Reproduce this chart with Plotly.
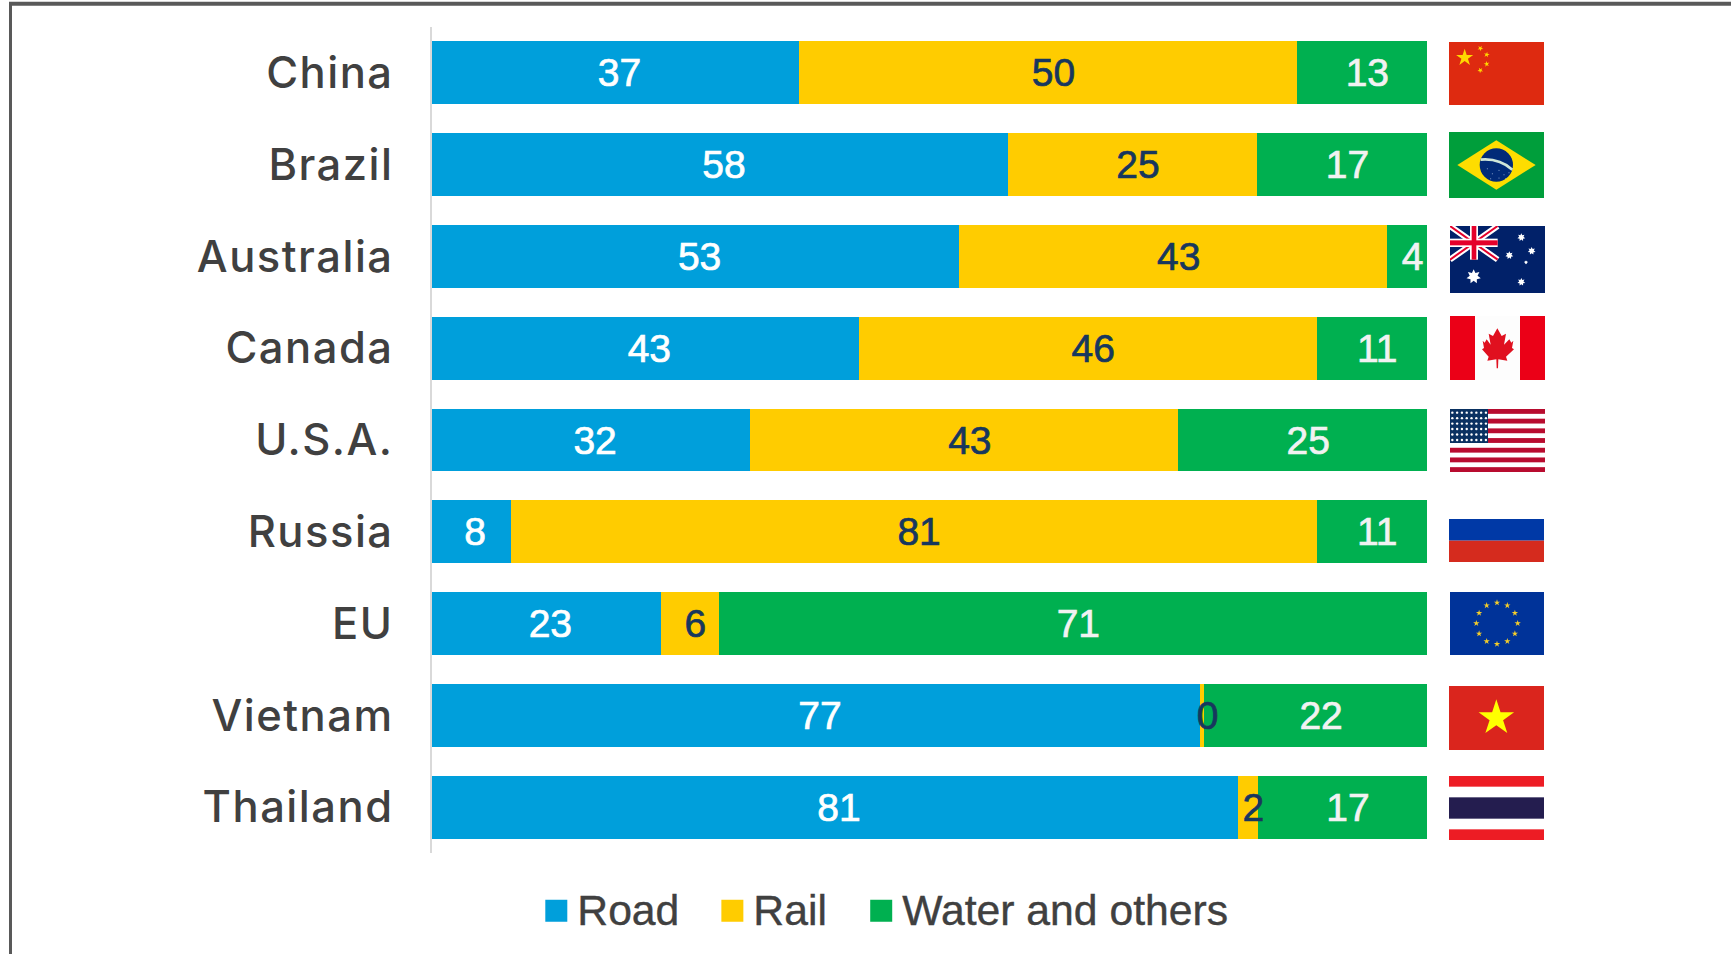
import base64
import math
import plotly.graph_objects as go

countries = ["China", "Brazil", "Australia", "Canada", "U.S.A.", "Russia", "EU", "Vietnam", "Thailand"]
road = [36.9, 57.9, 53, 42.9, 32, 7.9, 23, 77.2, 81]
rail = [50, 25, 43, 46, 43, 81, 5.8, 0.4, 2]
water = [13.1, 17.1, 4, 11.1, 25, 11.1, 71.2, 22.4, 17]

BLUE, YELLOW, GREEN = "#009FDB", "#FFCC00", "#00B050"
W, H = 1731, 954
L, R, T, B = 432, 1427, 27, 853
PW, PH = R - L, B - T


def star(cx, cy, r, points=5, inner=0.382, fill="#FFD800", rot=-90):
    pts = []
    for i in range(points * 2):
        rad = r if i % 2 == 0 else r * inner
        a = math.radians(rot + i * 180 / points)
        pts.append(f"{cx + rad * math.cos(a):.1f},{cy + rad * math.sin(a):.1f}")
    return f'<polygon points="{" ".join(pts)}" fill="{fill}"/>'


def svg(w, h, body):
    s = f'<svg xmlns="http://www.w3.org/2000/svg" width="{w}" height="{h}" viewBox="0 0 {w} {h}" preserveAspectRatio="none">{body}</svg>'
    return "data:image/svg+xml;base64," + base64.b64encode(s.encode()).decode()


def rect(x, y, w, h, c):
    return f'<rect x="{x}" y="{y}" width="{w}" height="{h}" fill="{c}"/>'


china = rect(0, 0, 285, 189, "#DE2A10") + star(47, 47, 27) + "".join(
    star(x, y, 9, rot=r) for x, y, r in [(94, 19, -60), (113, 38, -80), (113, 66, -100), (94, 85, -120)])

brazil = (rect(0, 0, 285, 198, "#009E3B")
          + '<polygon points="25,99 142,25 260,99 142,173" fill="#FEDD00"/>'
          + '<circle cx="142" cy="99" r="50" fill="#012A78"/>'
          + '<path d="M95,83 Q150,78 190,113" stroke="#CFE6D8" stroke-width="8" fill="none"/>'
          + "".join(f'<circle cx="{x}" cy="{y}" r="1.5" fill="#AFC4E0"/>' for x, y in
                    [(115, 110), (130, 125), (150, 115), (165, 128), (180, 122), (125, 140), (150, 138), (170, 140)]))

australia = (rect(0, 0, 285, 201, "#012169")
             + '<path d="M0,0 L143,101 M143,0 L0,101" stroke="#FFFFFF" stroke-width="18"/>'
             + '<path d="M0,0 L143,101 M143,0 L0,101" stroke="#E4002B" stroke-width="6"/>'
             + rect(60, 0, 24, 101, "#FFFFFF") + rect(0, 38, 143, 25, "#FFFFFF")
             + rect(65, 0, 14, 101, "#E4002B") + rect(0, 43, 143, 15, "#E4002B")
             + star(71, 152, 22, 7, 0.55, "#FFFFFF")
             + "".join(star(x, y, r, 7, 0.55, "#FFFFFF") for x, y, r in
                       [(214, 34, 12), (245, 75, 12), (178, 88, 12), (228, 109, 6), (214, 168, 12)]))

leaf = ("M142,37 L155,60 L168,53 L162,86 L178,70 L184,80 L190,74 L186,96 L192,100 L168,122 L172,134 "
        "L145,130 L144,157 L140,157 L139,130 L112,134 L116,122 L96,100 L102,96 L98,74 L104,80 L110,70 "
        "L122,86 L116,53 L129,60 Z")
canada = (rect(0, 0, 285, 192, "#EB0017") + rect(75, 0, 135, 192, "#FDFDFD")
          + f'<path d="{leaf}" fill="#E0101F"/>')

usa = rect(0, 0, 285, 189, "#FFFFFF") + "".join(
    rect(0, i * 14.54, 285, 14.54, "#B80C2F") for i in range(0, 13, 2)) + rect(0, 0, 114, 102, "#0A3161") + "".join(
    f'<circle cx="{7 + c * 14.4:.1f}" cy="{11 + r * 16.4:.1f}" r="3.6" fill="#FFFFFF"/>' for r in range(6) for c in range(8))

russia = rect(0, 0, 285, 65, "#0039A6") + rect(0, 65, 285, 64, "#D52B1E")

eu = rect(0, 0, 282, 189, "#003399") + "".join(
    star(141 + 62 * math.sin(math.radians(30 * i)), 94 - 62 * math.cos(math.radians(30 * i)), 10, fill="#F5CE2A")
    for i in range(12))

vietnam = rect(0, 0, 285, 192, "#DA251D") + star(142, 96, 56, fill="#FFFF00")

thailand = (rect(0, 0, 285, 192, "#FFFFFF") + rect(0, 0, 285, 32, "#ED1C24") + rect(0, 160, 285, 32, "#ED1C24")
            + rect(0, 64, 285, 64, "#241D4F"))

flags = [
    (svg(285, 189, china), 1449, 42, 95, 63),
    (svg(285, 198, brazil), 1449, 132, 95, 66),
    (svg(285, 201, australia), 1450, 226, 95, 67),
    (svg(285, 192, canada), 1450, 316, 95, 64),
    (svg(285, 189, usa), 1450, 409, 95, 63),
    (svg(285, 129, russia), 1449, 519, 95, 43),
    (svg(282, 189, eu), 1450, 592, 94, 63),
    (svg(285, 192, vietnam), 1449, 686, 95, 64),
    (svg(285, 192, thailand), 1449, 776, 95, 64),
]


def px(x):
    return (x - L) / PW


def py(y):
    return 1 - (y - T) / PH


fig = go.Figure()
for name, vals, col, tc, pad in [("Road", road, BLUE, "#FFFFFF", "\u2009"),
                                 ("Rail", rail, YELLOW, "#17375E", "\u2009\u200a"),
                                 ("Water and others", water, GREEN, "#F2F2F2", "\u2009\u200a")]:
    fig.add_trace(go.Bar(
        name=name, y=countries, x=vals, orientation="h", marker=dict(color=col, line=dict(width=0)),
        texttemplate=pad + "%{x:.0f}", textposition="inside", insidetextanchor="middle", textangle=0,
        constraintext="none", cliponaxis=False,
        textfont=dict(family="Liberation Sans", size=39, color=tc),
    ))

fig.update_layout(
    width=W, height=H, barmode="stack", bargap=0.314,
    margin=dict(l=L, r=W - R, t=T, b=H - B, autoexpand=False),
    paper_bgcolor="#FFFFFF", plot_bgcolor="#FFFFFF",
    xaxis=dict(range=[0, 100], visible=False, fixedrange=True),
    yaxis=dict(type="category", autorange="reversed", showline=True, linecolor="#D9D9D9", linewidth=1.5,
               showgrid=False, zeroline=False, ticks="", ticklabelstandoff=28,
               tickfont=dict(family="Inter", size=43.5, color="#404040", weight=500), fixedrange=True),
    showlegend=True,
    legend=dict(orientation="h", x=px(535.3), xanchor="left", y=py(911), yanchor="middle",
                traceorder="normal", itemwidth=32, font=dict(family="Liberation Sans", size=42.7, color="#404040"),
                itemclick=False, itemdoubleclick=False),
    images=[dict(source=s, xref="paper", yref="paper", x=px(x), y=py(y), sizex=w / PW, sizey=h / PH,
                 xanchor="left", yanchor="top", sizing="stretch", layer="above") for s, x, y, w, h in flags],
    shapes=[
        dict(type="line", xref="paper", yref="paper", x0=px(9), x1=px(W), y0=py(3.7), y1=py(3.7),
             line=dict(color="#595959", width=4)),
        dict(type="line", xref="paper", yref="paper", x0=px(10.5), x1=px(10.5), y0=py(2), y1=py(H),
             line=dict(color="#595959", width=3)),
    ],
)

post = """
document.body.style.margin='0';
document.documentElement.style.overflow='hidden';
document.querySelectorAll('.ytick text').forEach(t=>t.style.letterSpacing='1.5px');
document.querySelectorAll('.legendpoints path').forEach(p=>p.setAttribute('d','M11,11H-11V-11H11Z'));
const bars=document.querySelectorAll('.barlayer .trace');
bars[1].parentNode.appendChild(bars[1]);
document.querySelectorAll('.bartext').forEach(t=>{t.style.stroke=t.style.fill;t.style.strokeWidth='0.7px';});
document.querySelectorAll('.legendtext').forEach(t=>{
  t.style.stroke=t.style.fill;t.style.strokeWidth='0.4px';
  t.setAttribute('y',parseFloat(t.getAttribute('y')||0)-2);
});
document.querySelectorAll('.legend .scrollbox').forEach(s=>s.removeAttribute('clip-path'));
const shifts=[0,27,55.3];
document.querySelectorAll('.legend .traces').forEach((g,i)=>{
  const m=/translate\\(([-\\d.]+),\\s*([-\\d.]+)\\)/.exec(g.getAttribute('transform'));
  if(m) g.setAttribute('transform','translate('+(parseFloat(m[1])+shifts[i])+','+m[2]+')');
});
"""
fig.write_html("out.html", post_script=post, config={"displayModeBar": False})
